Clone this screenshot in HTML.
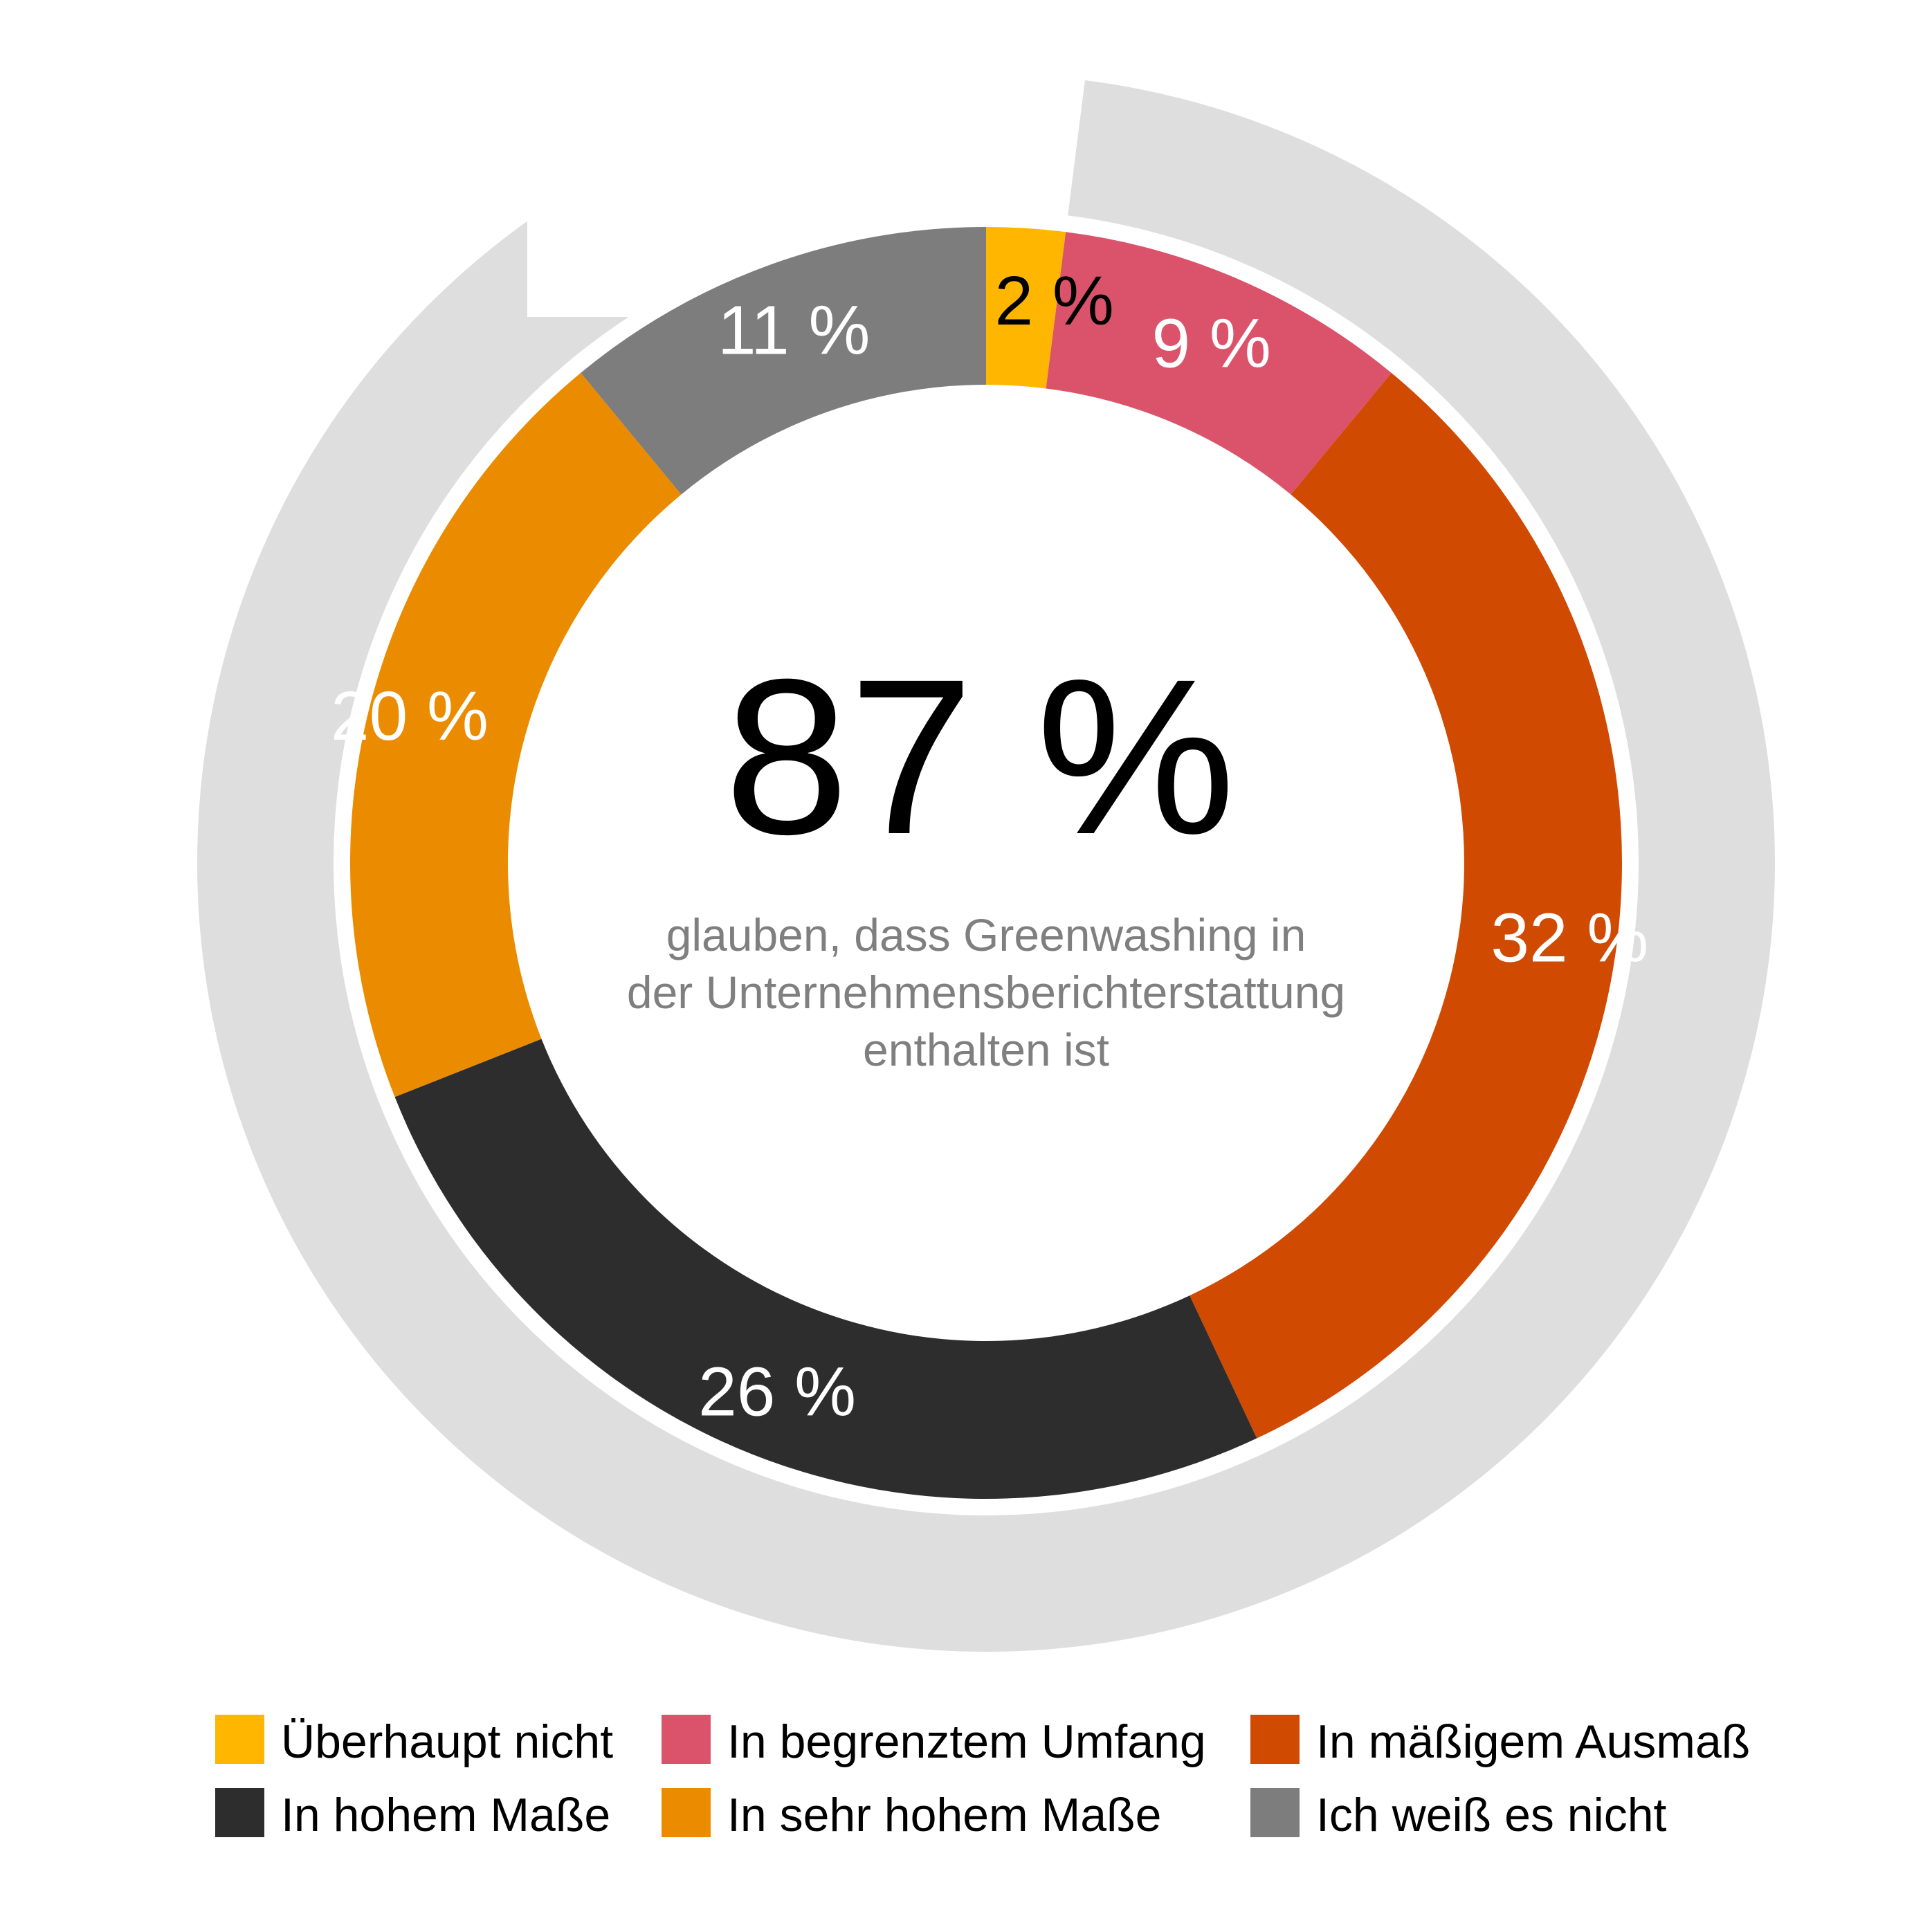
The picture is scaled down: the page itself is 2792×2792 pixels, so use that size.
<!DOCTYPE html>
<html><head><meta charset="utf-8"><style>
html,body{margin:0;padding:0;background:#fff}
svg{display:block}
text{font-family:"Liberation Sans",sans-serif}
</style></head><body>
<svg id="chart" width="2792" height="2792" viewBox="0 0 2792 2792" xmlns="http://www.w3.org/2000/svg">
<defs>
<clipPath id="outerClip"><polygon points="0,0 762,0 762,458 1200,458 1200,0 2792,0 2792,2792 0,2792"/></clipPath>
</defs>
<g id="outer" clip-path="url(#outerClip)"></g>
<g id="inner"></g>
<g id="labels"></g>
<text x="1416" y="1204" font-size="320" text-anchor="middle" fill="#000" textLength="739" lengthAdjust="spacingAndGlyphs">87 %</text>
<g fill="#7f7f7f" font-size="66" text-anchor="middle">
<text x="1425" y="1374">glauben, dass Greenwashing in</text>
<text x="1425" y="1457">der Unternehmensberichterstattung</text>
<text x="1425" y="1540">enthalten ist</text>
</g>
<g id="legend"></g>
</svg>
<script>
const categories = ["Überhaupt nicht","In begrenztem Umfang","In mäßigem Ausmaß","In hohem Maße","In sehr hohem Maße","Ich weiß es nicht"];
const values = [2, 9, 32, 26, 20, 11];
const valueLabels = ["2 %","9 %","32 %","26 %","20 %","11 %"];
const highlightValue = 87;
const colors = ["#FFB600","#DB536A","#D04A02","#2D2D2D","#EB8C00","#7D7D7D"];
const labelColors = ["#000","#fff","#fff","#fff","#fff","#fff"];
const legendOrder = [0,1,2,3,4,5];

const NS = "http://www.w3.org/2000/svg";
const cx = 1425, cy = 1247;
const rIn = 691, rOut = 919, gIn = 943, gOut = 1140;
const total = values.reduce((a,b)=>a+b,0);
function ang(v){ return v/total*2*Math.PI; }
function pt(r,a){ return [cx + r*Math.sin(a), cy - r*Math.cos(a)]; }
function arc(r0,r1,a0,a1){
  const large = (a1-a0) > Math.PI ? 1 : 0;
  const p0=pt(r1,a0), p1=pt(r1,a1), p2=pt(r0,a1), p3=pt(r0,a0);
  return `M${p0[0]},${p0[1]} A${r1},${r1} 0 ${large} 1 ${p1[0]},${p1[1]} L${p2[0]},${p2[1]} A${r0},${r0} 0 ${large} 0 ${p3[0]},${p3[1]} Z`;
}
// outer highlight arc: starts after first category, spans highlightValue
const outerG = document.getElementById('outer');
const oStart = ang(values[0]);
const oEnd = oStart + ang(highlightValue) + 0.3;
const op = document.createElementNS(NS,'path');
op.setAttribute('d', arc(gIn,gOut,oStart,oEnd));
op.setAttribute('fill','#DEDEDE');


outerG.appendChild(op);

const innerG = document.getElementById('inner');
const labelsG = document.getElementById('labels');
const labelR = [820, 820, 850, 820, 860, 820];
let acc = 0;
values.forEach((v,i)=>{
  const a0 = ang(acc), a1 = ang(acc+v);
  const p = document.createElementNS(NS,'path');
  p.setAttribute('d', arc(rIn,rOut,a0,a1));
  p.setAttribute('fill', colors[i]);
  
  
  innerG.appendChild(p);
  let am = (a0+a1)/2;
  if (i===0) am = a1 - 0.005;
  const lp = pt(labelR[i], am);
  const t = document.createElementNS(NS,'text');
  t.setAttribute('x', lp[0]);
  t.setAttribute('y', lp[1] + 36);
  t.setAttribute('font-size', '100');
  t.setAttribute('text-anchor', 'middle');
  t.setAttribute('fill', labelColors[i]);
  
  
  t.textContent = valueLabels[i];
  labelsG.appendChild(t);
  acc += v;
});

const legendG = document.getElementById('legend');
const colX = [311, 956, 1807];
const rowY = [2478, 2584];
legendOrder.forEach((ci,k)=>{
  const col = k%3, row = Math.floor(k/3);
  const r = document.createElementNS(NS,'rect');
  r.setAttribute('x', colX[col]);
  r.setAttribute('y', rowY[row]);
  r.setAttribute('width', 71);
  r.setAttribute('height', 71);
  r.setAttribute('fill', colors[ci]);
  
  
  legendG.appendChild(r);
  const t = document.createElementNS(NS,'text');
  t.setAttribute('x', colX[col] + 95);
  t.setAttribute('y', rowY[row] + 62);
  t.setAttribute('font-size', '68');
  t.setAttribute('fill', '#000');
  
  
  t.textContent = categories[ci];
  legendG.appendChild(t);
});
</script>
</body></html>
